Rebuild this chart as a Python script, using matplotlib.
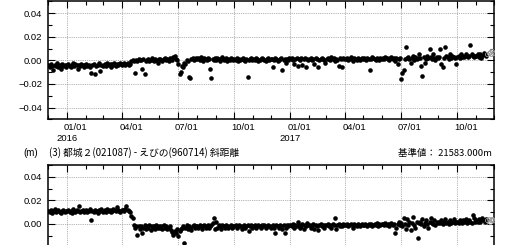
import matplotlib
matplotlib.use("Agg")
import matplotlib.pyplot as plt
import matplotlib.dates as mdates
import pandas as pd
from matplotlib.ticker import MultipleLocator

plt.rcParams['font.family'] = ['Liberation Sans', 'Noto Sans CJK JP']

# one list per month, values in mm, Dec 2015 .. Nov 2017 (Nov = black part only)
months = pd.date_range('2015-12-01', '2017-11-01', freq='MS')

top_mm = [
    [-4, -6, -3, -5, -8, -4, -5, -2, -6, -4, -7, -3, -5, -4, -6],
    [-4, -3, -5, -6, -4, -2, -5, -3, -4, -7, -4, -5, -3, -4, -6, -4],
    [-3, -5, -4, -6, -11, -4, -3, -12, -5, -4, -2, -9, -4, -5],
    [-4, -3, -5, -2, -4, -3, -6, -3, -4, -2, -5, -3, -4, -3, -2, -4],
    [-3, -2, -4, -3, -2, -4, -3, -1, 0, -1, -11, 0, -1, 1, 0],
    [0, -7, 1, -12, -1, 0, 1, -1, 0, 2, 0, -1, 1, 0, -2, 1],
    [1, 0, -1, 1, 2, 0, 1, -1, 2, 1, 0, 3, 4, 1, 0],
    [-3, -12, -10, -5, -6, -2, -3, 0, -1, -14, -15, 1, 2, 0, 1, 2],
    [1, 2, 0, 3, 1, -1, 2, 1, 0, 2, 1, -7, -15, 1, 0, 2],
    [0, 2, 1, -1, 1, 3, 0, 1, 2, -1, 1, 0, 2, 1, 0],
    [1, 0, 2, -1, 1, 0, 1, 2, 0, -1, 1, -14, 0, 1, 2, 0],
    [1, 0, 2, 1, -1, 0, 1, 2, 1, 0, -1, 1, 2, 0, 1],
    [1, -6, 0, 2, 1, -1, 0, 1, 2, -8, 0, 1, -2, 1, 0, 2],
    [1, 2, 0, -3, 1, 2, -5, 1, 0, 2, -4, 1, 2, -6, 1, 0],
    [1, 2, 0, 1, -3, 2, 1, -6, 0, 1, 2, 1, 0, -2],
    [1, 2, 1, 0, 3, 1, 2, -1, 1, 0, -5, 2, 1, -6, 2, 1],
    [1, 2, 0, 1, 3, 1, -1, 2, 1, 0, 2, 1, 0, 2, 1],
    [2, 1, 0, 2, 1, -8, 1, 3, 2, 1, 0, 2, 1, 0, 2, 1],
    [2, 1, 3, 2, 1, 0, 2, 3, 1, 2, -1, 2, -3, 1, 2],
    [-16, -11, -8, 1, 11, 2, 3, 1, -2, 2, 4, 0, 3, 1, 2, 5],
    [2, -5, -13, 3, -2, 1, 4, 2, 10, 3, 1, 5, 2, 0, 3, 2],
    [3, 10, -3, -6, 2, 11, 4, 3, 1, 5, 2, 4, 3, 2, -3],
    [3, 4, 2, 5, 3, 4, 3, 5, 4, 3, 4, 13, 5, 4, 3, 4],
    [4, 5, 3, 5, 2, 4, 6, 5, 4],
]
top_grey_mm = [5, 6, 7, 5, 8, 6]

bot_mm = [
    [11, 10, 12, 9, 11, 13, 10, 11, 12, 10, 9, 11, 12, 10, 11],
    [11, 12, 10, 11, 9, 13, 11, 10, 12, 11, 15, 10, 11, 12, 10, 11],
    [12, 10, 11, 13, 3, 11, 10, 12, 11, 9, 12, 11, 13, 10],
    [11, 12, 10, 13, 11, 12, 10, 11, 13, 12, 11, 14, 12, 11, 10, 12],
    [12, 11, 13, 15, 12, 11, 10, 7, 5, -1, -3, -2, -9, -2, -4],
    [-2, -8, -3, -1, -4, -2, -3, -1, -5, -2, -3, -2, -4, -1, -3, -2],
    [-3, -2, -4, -1, -3, -2, -4, -3, -2, -5, -7, -9, -6, -8, -4],
    [-10, -6, -4, -3, -2, -16, -3, -1, -4, -2, -3, -5, -2, -1, -3, -2],
    [-2, -3, -1, -2, -4, -2, -1, -3, -2, -1, -3, -2, -1, 1, 5, -4],
    [2, -3, -1, -2, -4, -1, -2, -3, -1, -2, -3, -2, -1, -3, -2],
    [-2, -1, -3, -2, -1, -2, -4, -2, -1, -3, -2, -1, -6, -2, -1, -3],
    [-2, -1, -3, -2, -1, -2, -3, -1, -2, -1, -3, -2, -1, -2, -3],
    [-2, -1, -3, -8, -1, -2, -3, -1, -2, -4, -1, -8, -3, -1, -2, -1],
    [-1, -2, 0, -3, -1, -2, 2, -1, -3, -2, 0, -4, -1, -2, 1, -1],
    [-1, -3, -2, 0, -4, -1, -2, -5, -1, 0, -2, -1, -3, -1],
    [-1, 0, -2, -1, -3, 0, -1, 5, -4, -1, 0, -2, -1, -2, 0, -1],
    [-1, 0, -2, -1, 0, -1, -3, 0, -1, -2, 0, -1, -2, 0, -1],
    [-1, 0, -1, -2, 0, -1, 0, -2, -1, 0, -1, 1, -2, 0, -1, 0],
    [0, -1, 1, -1, 0, -2, 0, 1, -1, 0, -8, -3, 0, 2, -1],
    [1, -2, 5, 0, -4, 4, -1, 2, -5, 1, 6, -1, -3, 2, -12, 1],
    [2, 0, 4, -2, 1, 3, 0, -3, 2, 5, 1, 0, 3, -1, 2, 1],
    [2, 1, 3, 0, 2, 4, 1, 2, 0, 3, 1, 2, 4, 1, 2],
    [2, 1, 3, 2, 1, 3, 2, 4, 1, 2, 3, 2, 1, 8, 5, 2],
    [3, 2, 4, 2, 3, 5, 3, 2, 4],
]
bot_grey_mm = [3, 4, 2, 3, 4, 3]

black_end = pd.Timestamp('2017-11-19')
grey_end = pd.Timestamp('2017-12-01')
quarter_ticks = pd.date_range('2016-01-01', '2017-10-01', freq='QS')

title3 = '(3) 都城２(021087) - えびの(960714) 斜距離'
base3 = '基準値： 21583.000m'


def spread(start, end, vals):
    step = (end - start) / len(vals)
    return [start + step * (i + 0.5) for i in range(len(vals))]


def build(month_vals):
    xs, ys = [], []
    for i, vals in enumerate(month_vals):
        start = months[i]
        end = months[i + 1] if i + 1 < len(months) else black_end
        xs += spread(start, end, vals)
        ys += [v / 1000 for v in vals]
    return xs, ys


def panel(ax, month_vals, grey_vals, date_labels=True):
    x, y = build(month_vals)
    ax.plot(x, y, 'o', ms=3.3, color='k', mec='none', zorder=3)
    gx = spread(black_end, grey_end, grey_vals)
    ax.plot(gx, [v / 1000 for v in grey_vals], 'o', ms=3.0, mfc='none',
            mec='#9a9a9a', mew=0.6, zorder=3)

    ax.set_xlim(pd.Timestamp('2015-12-01'), pd.Timestamp('2017-12-01'))
    ax.set_ylim(-0.05, 0.05)
    ax.set_xticks(quarter_ticks)
    ax.set_xticklabels([])
    ax.xaxis.set_minor_locator(mdates.MonthLocator())
    ax.yaxis.set_major_locator(MultipleLocator(0.02))
    ax.yaxis.set_minor_locator(MultipleLocator(0.01))
    ax.yaxis.set_major_formatter(lambda v, p: f'{v:.2f}'.replace('-', '\u2212'))
    ax.tick_params(which='both', direction='in', top=True, right=True,
                   width=0.8, labelsize=6.8, pad=4)
    ax.tick_params(which='major', length=5)
    ax.tick_params(which='minor', length=3)
    ax.grid(which='major', color='#999999', linestyle=(0, (1, 1.2)), linewidth=0.6)
    for s in ax.spines.values():
        s.set_linewidth(1.1)

    if not date_labels:
        return
    tr = ax.get_xaxis_transform()
    for d in quarter_ticks:
        ax.text(d + pd.Timedelta(days=15), -0.068, d.strftime('%m/%d'),
                transform=tr, ha='center', va='center', fontsize=6.8)
        if d.month == 1:
            ax.text(d, -0.161, str(d.year), transform=tr, ha='center',
                    va='center', fontsize=6.8)


fig = plt.figure(figsize=(5.2, 2.45), dpi=100)
ax1 = fig.add_axes([0.0917, 0.513, 0.8583, 0.4816])
ax2 = fig.add_axes([0.0917, -0.155, 0.8583, 0.4816])
panel(ax1, top_mm, top_grey_mm)
# the lower panel's date labels fall below the picture
panel(ax2, bot_mm, bot_grey_mm, date_labels=False)

jp = ['Noto Sans CJK JP', 'DejaVu Sans']
fig.text(0.044, 0.3755, '(m)', fontsize=7, va='center')
fig.text(0.094, 0.3755, title3, fontsize=7, va='center', family=jp)
fig.text(0.946, 0.3755, base3, fontsize=6.8, va='center', ha='right', family=jp)

fig.savefig('out.png', dpi=100)
